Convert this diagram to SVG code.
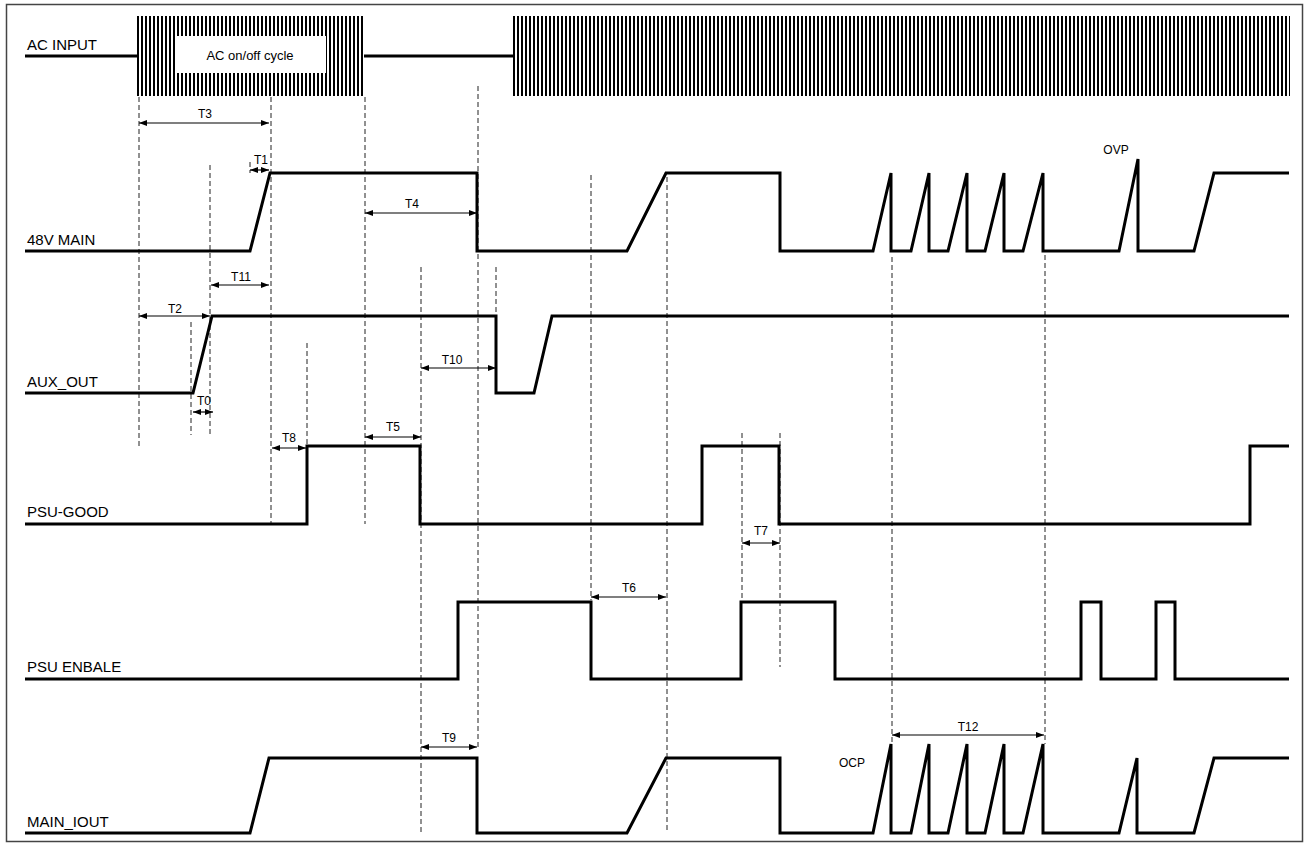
<svg xmlns="http://www.w3.org/2000/svg" width="1309" height="846" viewBox="0 0 1309 846">
<style>
.sig{fill:none;stroke:#000;stroke-width:3;stroke-linejoin:miter}
.dash{stroke:#222;stroke-width:1;stroke-dasharray:5,3;fill:none}
.dim{stroke:#000;stroke-width:1.2;fill:none;marker-start:url(#ah);marker-end:url(#ah)}
.lbl{font-family:"Liberation Sans",Arial,sans-serif;font-size:15px;fill:#000}
.tl{font-family:"Liberation Sans",Arial,sans-serif;font-size:12px;fill:#000;text-anchor:middle}
</style>
<defs>
<marker id="ah" viewBox="0 0 8 6" refX="8" refY="3" markerWidth="8" markerHeight="6" markerUnits="userSpaceOnUse" orient="auto-start-reverse">
<path d="M0,0 L8,3 L0,6 z" fill="#000"/>
</marker>
<pattern id="hatch" x="137" y="0" width="4" height="20" patternUnits="userSpaceOnUse">
<rect x="0" y="0" width="2" height="20" fill="#000"/>
</pattern>
</defs>
<rect x="0" y="0" width="1309" height="846" fill="#fff"/>
<rect x="6.5" y="4.5" width="1296" height="837" fill="none" stroke="#444" stroke-width="1.5"/>

<g id="connectors">
<path class="dash" d="M139,97V448 M210,165V435 M191,322V435 M250,162V173 M271,97V524 M307,343V446 M365,97V524 M421,267V833 M478,86V747 M496,267V316 M591,175V600 M667,177V832 M742,433V602 M780,433V667 M892,257V744 M1045,255V744"/>
<line class="dim" x1="139" y1="123" x2="269" y2="123"/>
<line class="dim" x1="250" y1="170" x2="269" y2="170"/>
<line class="dim" x1="365" y1="213" x2="477" y2="213"/>
<line class="dim" x1="211" y1="285" x2="269" y2="285"/>
<line class="dim" x1="139" y1="316" x2="210" y2="316"/>
<line class="dim" x1="421" y1="368" x2="496" y2="368"/>
<line class="dim" x1="193" y1="412" x2="213" y2="412"/>
<line class="dim" x1="272" y1="448" x2="306" y2="448"/>
<line class="dim" x1="365" y1="437" x2="421" y2="437"/>
<line class="dim" x1="742" y1="543" x2="780" y2="543"/>
<line class="dim" x1="591" y1="597" x2="666" y2="597"/>
<line class="dim" x1="892" y1="735" x2="1044" y2="735"/>
<line class="dim" x1="421" y1="747" x2="477" y2="747"/>
<text class="tl" x="205" y="118">T3</text>
<text class="tl" x="261" y="164">T1</text>
<text class="tl" x="412" y="208">T4</text>
<text class="tl" x="241" y="281">T11</text>
<text class="tl" x="175" y="313">T2</text>
<text class="tl" x="452" y="364">T10</text>
<text class="tl" x="204" y="405">T0</text>
<text class="tl" x="289" y="442">T8</text>
<text class="tl" x="393" y="431">T5</text>
<text class="tl" x="761" y="535">T7</text>
<text class="tl" x="629" y="592">T6</text>
<text class="tl" x="968" y="731">T12</text>
<text class="tl" x="449" y="742">T9</text>
</g>

<g id="ac-input">
<path class="sig" d="M25,56H137 M364,56H513"/>
<rect x="137" y="16" width="227" height="80" fill="url(#hatch)"/>
<rect x="513" y="16" width="777" height="80" fill="url(#hatch)"/>
<rect x="175" y="36" width="151" height="37" fill="#fff"/>
<text class="tl" x="250" y="60" style="font-size:13px">AC on/off cycle</text>
<text class="lbl" x="27" y="50">AC INPUT</text>
</g>

<g id="main-48v">
<path class="sig" d="M25,251H250L270,173H477V251H627L666,173H780V251H873L891,173V251H911L929,173V251H948L967,173V251H985L1004,173V251H1023L1043,173V251H1119L1138,159V251H1194L1214,173H1289"/>
<text class="lbl" x="27" y="245">48V MAIN</text>
<text class="tl" x="1116" y="154">OVP</text>
</g>

<g id="aux-out">
<path class="sig" d="M25,393H193L212,316H496V393H534L552,316H1289"/>
<text class="lbl" x="27" y="387">AUX_OUT</text>
</g>

<g id="psu-good">
<path class="sig" d="M25,524H307V446H420V524H702V446H779V524H1250V446H1289"/>
<text class="lbl" x="27" y="517">PSU-GOOD</text>
</g>

<g id="psu-enable">
<path class="sig" d="M25,679H458V602H591V679H741V602H835V679H1081V602H1101V679H1156V602H1175V679H1289"/>
<text class="lbl" x="27" y="672">PSU ENBALE</text>
</g>

<g id="main-iout">
<path class="sig" d="M25,833H250L269,758H477V833H627L666,758H780V833H873L891,744V833H911L929,744V833H948L967,744V833H985L1004,744V833H1023L1043,744V833H1119L1137,758V833H1194L1214,758H1289"/>
<text class="lbl" x="27" y="827">MAIN_IOUT</text>
<text class="tl" x="852" y="767">OCP</text>
</g>
</svg>
